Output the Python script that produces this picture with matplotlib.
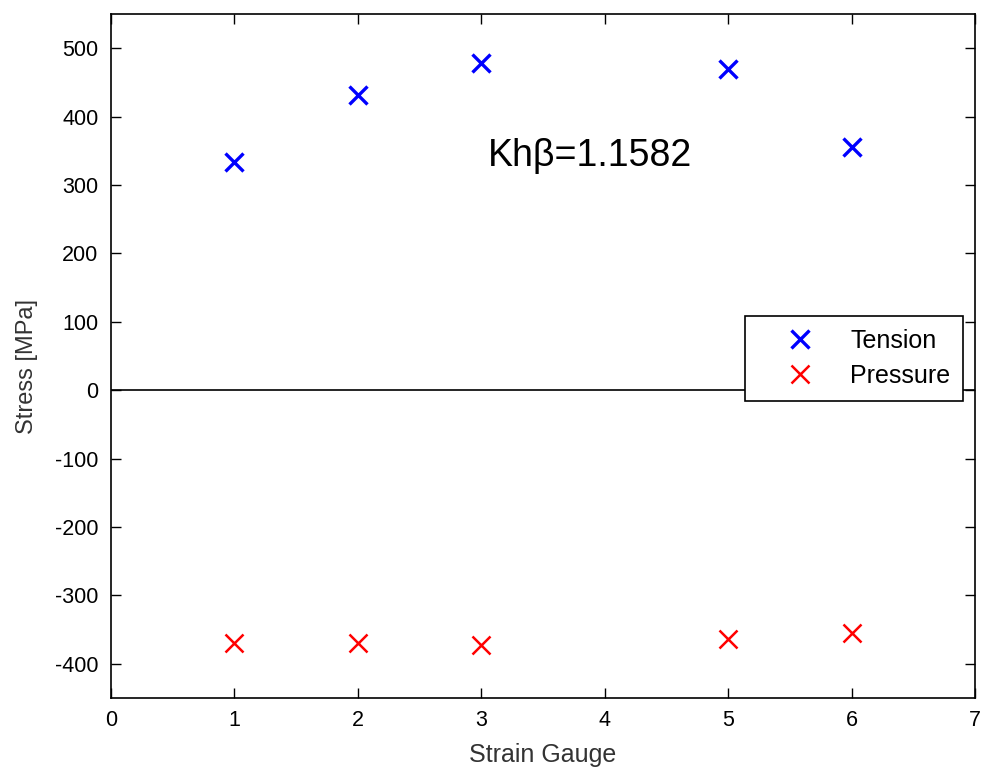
import matplotlib
matplotlib.use("Agg")
import matplotlib.pyplot as plt

# strain gauge readings
gauge = [1, 2, 3, 5, 6]
tension = [333, 432, 479, 469, 356]
pressure = [-370, -369, -372, -364, -355]
k_label = "Khβ=1.1582"

plt.rcParams['font.family'] = ['Liberation Sans', 'DejaVu Sans']
plt.rcParams['axes.unicode_minus'] = False

fig = plt.figure(figsize=(9.81, 7.69), dpi=100)
ax = fig.add_axes([111/981, 1 - 698/769, 864/981, 684/769])

ax.axhline(0, color='black', lw=1.2, zorder=1)
ax.plot(gauge, tension, 'x', color='#0000ff', ms=13, mew=2.4, label='Tension', zorder=3)
ax.plot(gauge, pressure, 'x', color='#ff0000', ms=13, mew=1.8, label='Pressure', zorder=3)

ax.text(3.88, 343, k_label, fontsize=27, ha='center', va='center')

ax.set_xlim(0, 7)
ax.set_ylim(-450, 550)
ax.set_xticks(range(0, 8))
ax.set_yticks(range(-400, 501, 100))
ax.tick_params(direction='in', length=7, width=1, top=True, right=True, labelsize=15.5, pad=9)
for s in ax.spines.values():
    s.set_linewidth(1.2)

ax.set_xlabel('Strain Gauge', fontsize=18, color='#333333', labelpad=8)
ax.set_ylabel('Stress [MPa]', fontsize=17, color='#333333')
ax.yaxis.set_label_coords(-0.085, 0.485)

leg = ax.legend(loc='upper left', bbox_to_anchor=(0.734, 0.558), fontsize=18,
                frameon=True, fancybox=False, edgecolor='black', framealpha=1,
                borderpad=0.5, handlelength=3.4, handletextpad=0.3,
                labelspacing=0.45, borderaxespad=0)
leg.get_frame().set_linewidth(1.2)
leg.set_zorder(5)

fig.savefig('out.png', dpi=100)
